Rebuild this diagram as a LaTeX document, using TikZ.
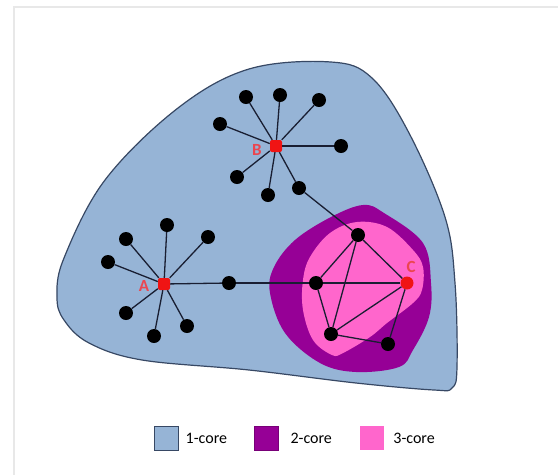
\documentclass[tikz,border=0pt]{standalone}
\usepackage{fontspec}
\setmainfont{Carlito}
\usetikzlibrary{positioning}
\definecolor{coreone}{RGB}{150,180,214}
\definecolor{coreonedraw}{RGB}{55,72,100}
\definecolor{coretwo}{RGB}{150,0,150}
\definecolor{corethree}{RGB}{255,102,204}
\definecolor{hubred}{RGB}{240,20,20}
\definecolor{lblred}{RGB}{235,70,80}
\definecolor{linkcol}{RGB}{25,30,50}
\begin{document}
\begin{tikzpicture}[x=1pt,y=-1pt,
  leaf/.style={circle,fill=black,inner sep=0pt,minimum size=14pt},
  hub/.style={rectangle,rounded corners=2pt,fill=hubred,inner sep=0pt,minimum size=12pt},
  lbl/.style={text=lblred,font=\bfseries\fontsize{17}{17}\selectfont,inner sep=0pt},
  link/.style={draw=linkcol,line width=1.3pt},
  swatch/.style={rectangle,minimum size=24pt,inner sep=0pt},
  keytext/.style={font=\fontsize{16}{16}\selectfont,inner sep=0pt}]
  \useasboundingbox (0,0) rectangle (558,475);
  % marco
  \draw[gray!18,line width=1.2pt] (14,475) -- (14,7) -- (558,7);
  % capas: 1-core, 2-core, 3-core
  \filldraw[fill=coreone,draw=coreonedraw,line width=1.2pt] plot[smooth cycle,tension=0.6] coordinates {
    (57,297) (64,258) (105,180) (178,108) (249,69) (331,62) (372,78) (409,133) (445,217)
    (455,283) (457,367) (452,388) (434,390) (356,383) (249,370) (142,360) (89,343) (64,320)};
  \fill[coretwo] plot[smooth cycle,tension=0.6] coordinates {
    (363,205) (384,213) (423,243) (431,283) (429,317) (413,350) (399,367) (356,372)
    (320,363) (285,333) (270,293) (274,267) (295,240) (331,217)};
  \fill[corethree] plot[smooth cycle,tension=0.6] coordinates {
    (357,222) (387,227) (413,250) (423,267) (422,290) (413,303) (387,323) (370,337)
    (343,353) (332,355) (313,340) (303,310) (303,280) (310,257) (330,233)};
  % nodos centrales
  \node[hub] (A) at (164,284) {};
  \node[hub] (B) at (276,146) {};
  \node[lbl] (lA) at (144,286) {A};
  \node[lbl] (lB) at (257,150) {B};
  % hojas de A y B
  \foreach \p [count=\i] in {(126,239),(167,225),(208,237),(108,262),(126,313),(154,336),(187,326)} {
    \node[leaf] (a\i) at \p {};
    \draw[link] (A) -- (a\i);
  }
  \foreach \p [count=\i] in {(246,97),(280,95),(319,100),(220,124),(341,146),(237,177),(268,195)} {
    \node[leaf] (b\i) at \p {};
    \draw[link] (B) -- (b\i);
  }
  \node[leaf] (aa) at (229,283) {};
  \node[leaf] (bb) at (299,188) {};
  % 3-core
  \node[leaf] (t) at (358,235) {};
  \node[leaf] (l) at (316,283) {};
  \node[hub,circle,minimum size=13pt] (C) at (407,283) {};
  \node[lbl] (lC) at (411,267) {C};
  \node[leaf] (bl) at (331,334) {};
  \node[leaf] (br) at (388,344) {};
  \draw[link] (A) -- (aa);
  \draw[link] (aa) -- (l);
  \draw[link] (B) -- (bb);
  \draw[link] (bb) -- (t);
  \draw[link] (t) -- (l);
  \draw[link] (t) -- (C);
  \draw[link] (t) -- (bl);
  \draw[link] (l) -- (C);
  \draw[link] (l) -- (bl);
  \draw[link] (C) -- (bl);
  \draw[link] (C) -- (br);
  \draw[link] (bl) -- (br);
  % leyenda
  \node[swatch,fill=coreone,draw=coreonedraw,line width=1pt] (k1) at (166,438) {};
  \node[keytext,right=7pt of k1] (t1) {1-core};
  \node[swatch,fill=coretwo,draw=coretwo!80!black,line width=0.6pt] (k2) at (266,438) {};
  \node[keytext,right=12pt of k2] (t2) {2-core};
  \node[swatch,fill=corethree] (k3) at (372,438) {};
  \node[keytext,right=9pt of k3] (t3) {3-core};
\end{tikzpicture}
\end{document}
